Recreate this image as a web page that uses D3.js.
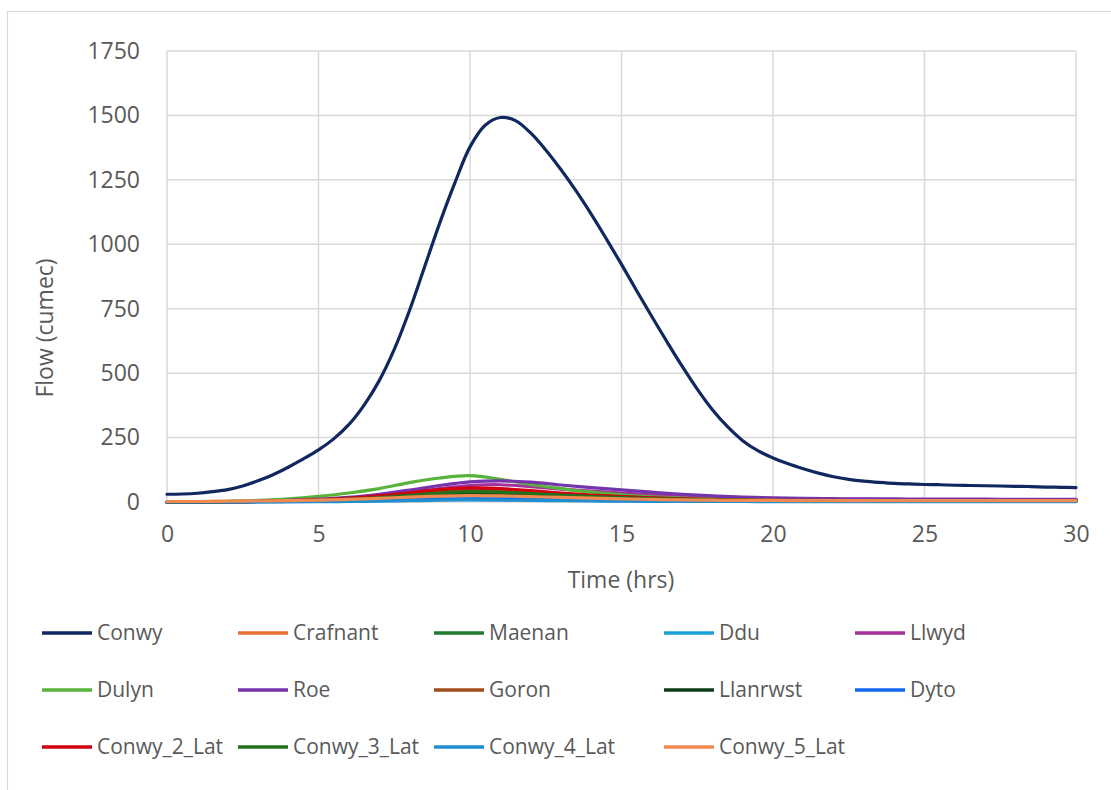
<!DOCTYPE html>
<html>
<head>
<meta charset="utf-8">
<script src="https://cdn.jsdelivr.net/npm/d3@7"></script>
<style>
  html, body { margin: 0; padding: 0; background: #fff; }
  svg { display: block; }
  text { font-family: "Open Sans", "Liberation Sans", sans-serif; fill: #595959; }
</style>
</head>
<body>
<svg id="chart" width="1111" height="790"></svg>
<script>
// ---- data ----
const hours = d3.range(0, 31);           // hourly time steps 0..30 hrs (tributaries)
const conwyHours = d3.range(0, 30.5, 0.5); // half-hourly time steps for Conwy
const seriesNames = ["Conwy","Crafnant","Maenan","Ddu","Llwyd","Dulyn","Roe","Goron","Llanrwst","Dyto","Conwy_2_Lat","Conwy_3_Lat","Conwy_4_Lat","Conwy_5_Lat"];
const seriesColors = ["#10275F","#E97132","#1E7B2E","#1AA0D8","#A5319A","#58B33A","#7434AE","#A24B1E","#0F3D18","#1266F0","#D0000F","#22701A","#1F8FD0","#F08A50"];

const conwy      = [30,31,34,40,48,62,82,106,135,167,202,245,300,375,470,592,742,912,1082,1238,1378,1462,1492,1480,1432,
                    1366,1290,1207,1117,1021,922,820,720,622,527,438,358,292,238,199,171,148,129,112,98,88,81,76,72,70,68,
                    67,65,64,63,62,61,60,58,57,56];
const crafnant   = [2,2,3,4,6,9,13,18,24,29,31,29,25,21,17,14,11,9,8,7,6,6,6,5,5,5,5,5,5,5,5];
const maenan     = [0,0,1,2,4,7,11,17,25,33,38,36,31,25,20,16,12,10,8,7,6,6,5,5,5,5,5,5,5,5,5];
const ddu        = [0,0,0,1,2,3,5,8,11,14,16,15,13,10,8,6,5,4,3,3,2,2,2,2,2,2,2,2,2,2,2];
const llwyd      = [0,0,1,2,4,8,14,23,37,52,64,67,60,50,42,35,28,22,17,14,12,11,10,10,9,9,9,9,9,9,9];
const dulyn      = [0,1,3,6,12,22,35,52,75,93,102,88,68,52,38,28,20,15,11,9,8,7,6,5,5,5,5,5,5,5,5];
const roe        = [0,0,1,3,6,11,18,30,46,64,78,82,77,66,56,47,38,30,24,19,16,14,13,12,12,11,11,11,10,10,10];
const goron      = [0,0,1,2,4,7,12,19,28,38,45,44,38,31,25,20,16,12,10,8,7,6,6,5,5,5,5,5,5,5,5];
const llanrwst   = [0,0,1,2,3,6,9,14,20,26,30,29,25,20,16,13,10,8,7,6,5,5,4,4,4,4,4,4,4,4,4];
const dyto       = [0,0,0,1,1,2,4,6,8,11,12,11,10,8,6,5,4,3,3,2,2,2,2,2,2,2,2,2,2,2,2];
const conwy2Lat  = [0,0,1,2,5,9,15,24,36,48,55,52,44,35,27,21,16,12,9,7,6,5,5,4,4,4,4,4,4,4,4];
const conwy3Lat  = [0,0,1,2,4,7,11,17,26,35,40,38,33,27,21,17,13,10,8,7,6,5,5,5,5,5,5,5,5,5,5];
const conwy4Lat  = [0,0,0,0,1,1,2,3,5,7,8,7,6,5,4,3,3,2,2,2,1,1,1,1,1,1,1,1,1,1,1];
const conwy5Lat  = [2,2,3,4,5,7,10,14,19,23,25,24,21,18,15,12,10,8,7,6,6,5,5,5,5,5,5,5,5,5,5];
const seriesValues = [conwy,crafnant,maenan,ddu,llwyd,dulyn,roe,goron,llanrwst,dyto,conwy2Lat,conwy3Lat,conwy4Lat,conwy5Lat];
const seriesTimes = seriesValues.map((v, k) => k === 0 ? conwyHours : hours);

const xTicks = [0,5,10,15,20,25,30];
const yTicks = [0,250,500,750,1000,1250,1500,1750];
const xTitle = "Time (hrs)";
const yTitle = "Flow (cumec)";

// ---- layout ----
const svg = d3.select("#chart");
const pLeft = 167, pRight = 1076, pTop = 51, pBottom = 502;

svg.append("rect").attr("x", 7.5).attr("y", 11.5).attr("width", 1110).attr("height", 800)
  .attr("fill", "#fff").attr("stroke", "#D9D9D9").attr("stroke-width", 1.2);

const x = d3.scaleLinear().domain([0, 30]).range([pLeft, pRight]);
const y = d3.scaleLinear().domain([0, 1750]).range([pBottom, pTop]);

// gridlines
const g = svg.append("g");
g.selectAll(".hg").data(yTicks).join("line")
  .attr("x1", pLeft).attr("x2", pRight).attr("y1", d => y(d)).attr("y2", d => y(d))
  .attr("stroke", "#D9D9D9").attr("stroke-width", 1.5);
g.selectAll(".vg").data(xTicks).join("line")
  .attr("y1", pTop).attr("y2", pBottom).attr("x1", d => x(d)).attr("x2", d => x(d))
  .attr("stroke", "#D9D9D9").attr("stroke-width", 1.5);

// axes (labels only)
const yAxis = d3.axisLeft(y).tickValues(yTicks).tickSize(0).tickPadding(27).tickFormat(d3.format("d"));
const ya = svg.append("g").attr("transform", `translate(${pLeft},0)`).call(yAxis);
ya.select(".domain").remove();
ya.selectAll("text").attr("font-size", 23).attr("fill", "#595959").style("font-family", "'Open Sans', sans-serif");

const xAxis = d3.axisBottom(x).tickValues(xTicks).tickSize(0).tickPadding(24).tickFormat(d3.format("d"));
const xa = svg.append("g").attr("transform", `translate(0,${pBottom})`).call(xAxis);
xa.select(".domain").remove();
xa.selectAll("text").attr("font-size", 23).attr("fill", "#595959").style("font-family", "'Open Sans', sans-serif");

svg.append("text").attr("x", 621).attr("y", 588).attr("text-anchor", "middle")
  .attr("font-size", 23).text(xTitle);
svg.append("text").attr("transform", `translate(53,328) rotate(-90)`)
  .attr("text-anchor", "middle").attr("font-size", 23).text(yTitle);

// lines
seriesNames.forEach((name, k) => {
  const times = seriesTimes[k];
  const line = d3.line().x((d, i) => x(times[i])).y(d => y(d)).curve(d3.curveCatmullRom.alpha(0.5));
  svg.append("path").datum(seriesValues[k])
    .attr("d", line).attr("fill", "none")
    .attr("stroke", seriesColors[k]).attr("stroke-width", 3.2)
    .attr("stroke-linejoin", "round").attr("stroke-linecap", "round");
});

// legend
const colX = [42, 238, 434, 664, 855];
const rowY = [633, 690, 747];
seriesNames.forEach((name, k) => {
  const c = k % 5, r = Math.floor(k / 5);
  const lg = svg.append("g").attr("transform", `translate(${colX[c]},${rowY[r]})`);
  lg.append("line").attr("x1", 0).attr("x2", 50).attr("y1", 0).attr("y2", 0)
    .attr("stroke", seriesColors[k]).attr("stroke-width", 3.5);
  lg.append("text").attr("x", 55).attr("y", 0).attr("dy", "0.35em")
    .attr("font-size", 21).text(name);
});
</script>
</body>
</html>
